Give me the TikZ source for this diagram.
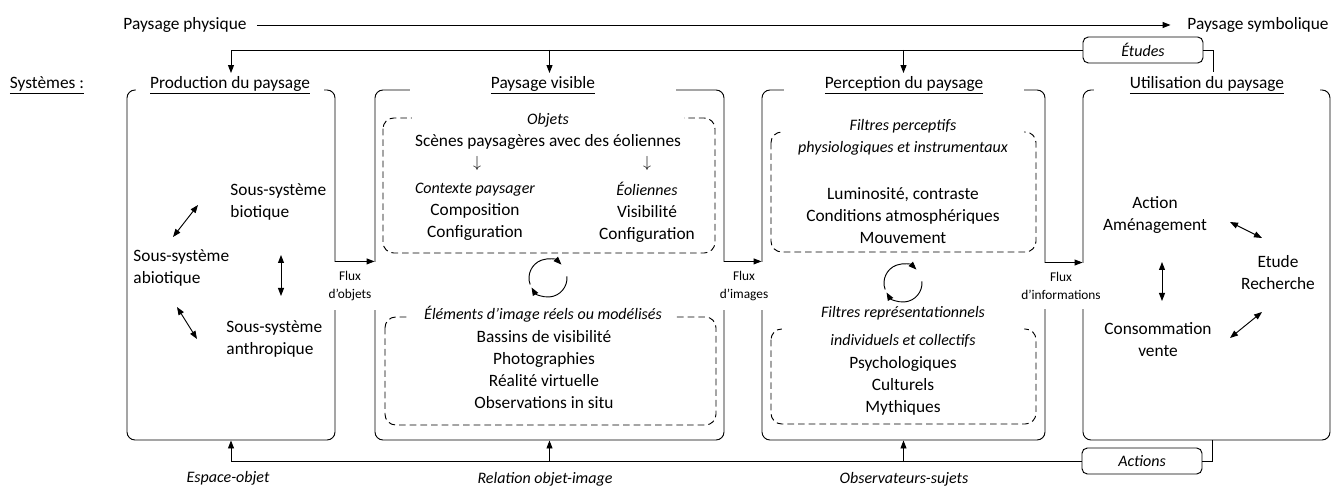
\documentclass[tikz,border=0pt]{standalone}
\usepackage{fontspec}
\setmainfont{Carlito}
\usetikzlibrary{positioning, fit, arrows.meta}
\newcommand{\emtxt}[1]{{\fontsize{12}{16.5}\selectfont\itshape #1}}
\tikzset{
	>={Triangle[length=6pt,width=4.5pt]},
	sysbox/.style={draw, rounded corners=6pt, inner sep=0pt},
	dashbox/.style={draw, dash pattern=on 5pt off 3pt, rounded corners=8pt},
	systitle/.style={fill=white, inner sep=2pt},
	txt/.style={align=center, inner sep=1pt},
	ltxt/.style={align=left, anchor=west, inner sep=0pt},
	ital/.style={font=\fontsize{12}{16.5}\selectfont\itshape},
	cover/.style={fill=white, align=center, inner sep=2pt},
	flux/.style={fill=white, align=center, minimum width=40pt, inner xsep=1pt, inner ysep=7pt, font=\fontsize{10}{13.5}\selectfont},
	tag/.style={draw, rounded corners=4pt, minimum width=90pt, minimum height=19.5pt, inner sep=0pt, ital}
}

\begin{document}
\begin{tikzpicture}[x=0.75pt, y=-0.75pt, line width=0.7pt, font=\fontsize{13}{16.5}\selectfont]
\useasboundingbox (0,0) rectangle (1343,488);
\node (prod) [sysbox, fit={(127,90) (335,440)}] {};
\node (vis) [sysbox, fit={(375,90) (724,440)}] {};
\node (perc) [sysbox, fit={(762,90) (1045,440)}] {};
\node (util) [sysbox, fit={(1083,90) (1330,440)}] {};
\draw[dashbox] (383,118) rectangle (715,253);
\draw[dashbox] (385,317) rectangle (716,425);
\draw[dashbox] (771,132) rectangle (1036,252);
\draw[dashbox] (771,329) rectangle (1036,424);

\node (phys) at (185,25) {Paysage physique};
\node (symb) at (1258,25) {Paysage symbolique};
\node (syst) at (47,85) {\underline{Systèmes :}};
\node (prodt) [systitle, minimum width=141pt] at (230,85) {\underline{Production du paysage}};
\node (vist) [systitle, minimum width=199pt] at (543,85) {\underline{Paysage visible}};
\node (perct) [systitle, minimum width=180pt] at (904,85) {\underline{Perception du paysage}};
\node (utilt) [systitle, minimum width=170pt] at (1207,85) {\underline{Utilisation du paysage}};
\node (etudes) [tag] at (1143,50) {Études};
\node (actions) [tag] at (1142,461) {Actions};
\coordinate (etq) at (1213,72);
\coordinate (actq) at (1212,440);

\node (bio) [ltxt] at (230,202) {Sous-système\\biotique};
\node (abio) [ltxt] at (133,268) {Sous-système\\abiotique};
\node (anthr) [ltxt] at (226,339) {Sous-système\\anthropique};
\coordinate (pa1) at (173,237); \coordinate (pa2) at (198,205);
\coordinate (pb1) at (281,255); \coordinate (pb2) at (281,296);
\coordinate (pc1) at (177,307); \coordinate (pc2) at (197,339);
\draw[<->] (pa1) -- (pa2); \draw[<->] (pb1) -- (pb2); \draw[<->] (pc1) -- (pc2);

\node (obj) [cover] at (548,131) {\emtxt{Objets}\\Scènes paysagères avec des éoliennes};
\node (dn1) [txt] at (477,164) {$\downarrow$};
\node (dn2) [txt] at (647,164) {$\downarrow$};
\node (ctx) [txt] at (475,212) {\emtxt{Contexte paysager}\\Composition\\Configuration};
\node (eol) [txt] at (647,212) {\emtxt{Éoliennes}\\Visibilité\\Configuration};
\node (elem) [cover, minimum width=200pt, ital] at (543,314) {Éléments d’image réels ou modélisés};
\node (bas) [txt] at (544,370) {Bassins de visibilité\\Photographies\\Réalité virtuelle\\Observations in situ};
\coordinate (cyc1) at (548,278);
\draw[->] (cyc1) ++(-200:19) arc[start angle=-200, end angle=-45, radius=19];
\draw[->] (cyc1) ++(-5:19) arc[start angle=-5, end angle=150, radius=19];

\node (fpt) [cover, minimum width=181pt, ital] at (903,137) {Filtres perceptifs\\physiologiques et instrumentaux};
\node (lum) [txt] at (903,216) {Luminosité, contraste\\Conditions atmosphériques\\Mouvement};
\coordinate (cyc2) at (903,283);
\draw[->] (cyc2) ++(-200:19) arc[start angle=-200, end angle=-45, radius=19];
\draw[->] (cyc2) ++(-5:19) arc[start angle=-5, end angle=150, radius=19];
\node (frep) [cover, minimum width=181pt, ital] at (903,327) {Filtres représentationnels\\[5pt]individuels et collectifs};
\node (psy) [txt] at (903,386) {Psychologiques\\Culturels\\Mythiques};

\node (act) [txt] at (1155,215) {Action\\Aménagement};
\node (etu) [txt] at (1278,273) {Etude\\Recherche};
\node (cons) [txt] at (1158,340) {Consommation\\vente};
\coordinate (ua1) at (1230,222); \coordinate (ua2) at (1262,238);
\coordinate (ub1) at (1162,262); \coordinate (ub2) at (1162,301);
\coordinate (uc1) at (1230,338); \coordinate (uc2) at (1262,312);
\draw[<->] (ua1) -- (ua2); \draw[<->] (ub1) -- (ub2); \draw[<->] (uc1) -- (uc2);

\node (fluxo) [flux] at (350,286) {Flux\\d'objets};
\node (fluxi) [flux] at (744,286) {Flux\\d'images};
\node (fluxn) [flux] at (1061,286) {Flux\\d'informations};
\draw[->] (prod.east |- fluxo.north) -- (vis.west |- fluxo.north);
\draw[->] (vis.east |- fluxi.north) -- (perc.west |- fluxi.north);
\draw[->] (perc.east |- fluxn.north) -- (util.west |- fluxn.north);

\node (esp) [ital] at (228,478) {Espace-objet};
\node (rel) [ital] at (545,479) {Relation objet-image};
\node (obs) [ital] at (904,479) {Observateurs-sujets};

\draw[->, shorten <=4pt, shorten >=9pt] (phys) -- (symb);
\draw (etq) |- (etudes.east);
\draw[->] (etudes.west) -| (prod.north |- prodt.north);
\draw[->] (vis.north |- etudes.west) -- (vis.north |- vist.north);
\draw[->] (perc.north |- etudes.west) -- (perc.north |- perct.north);
\draw (actq) |- (actions.east);
\draw[->] (actions.west) -| (prod.south);
\draw[->] (vis.south |- actions.west) -- (vis.south);
\draw[->] (perc.south |- actions.west) -- (perc.south);
\end{tikzpicture}
\end{document}
